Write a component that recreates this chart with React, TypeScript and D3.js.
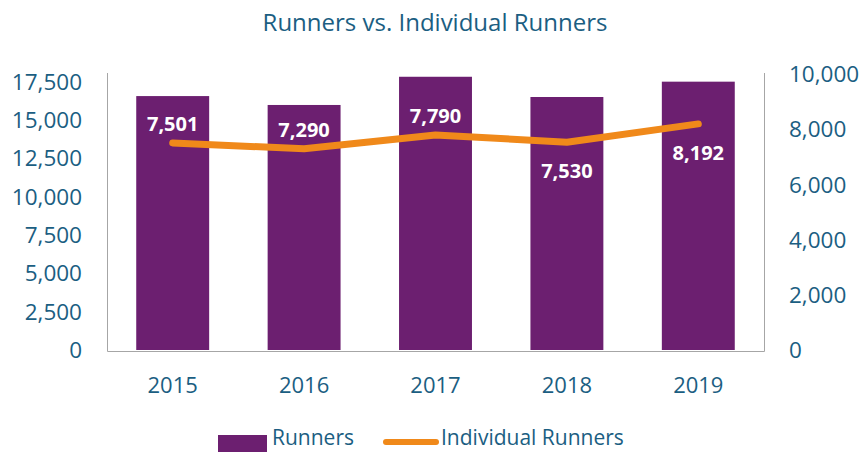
import * as d3 from 'd3';
import { useEffect, useRef } from 'react';

const years = ['2015', '2016', '2017', '2018', '2019'];
const runners = [16560, 15980, 17820, 16500, 17500];
const individualRunners = [7501, 7290, 7790, 7530, 8192];
const leftTicks = [0, 2500, 5000, 7500, 10000, 12500, 15000, 17500];
const rightTicks = [0, 2000, 4000, 6000, 8000, 10000];
// label above (-1) or below (1) the line point
const labelSide = [-1, -1, -1, 1, 1];

export default function App() {
    const ref = useRef<HTMLDivElement>(null);

    useEffect(() => {
        const width = 866;
        const height = 452;
        const margin = { top: 74, right: 102, bottom: 102, left: 107 };
        const font = '"Open Sans", sans-serif';
        const textColor = '#1b5e82';
        const barColor = '#6c1f70';
        const lineColor = '#f0891a';
        const axisColor = '#a6a6a6';

        ref.current!.innerHTML = '';
        const svg = d3
            .create('svg')
            .attr('width', width)
            .attr('height', height)
            .style('display', 'block');
        ref.current!.append(svg.node()!);

        const x = d3
            .scaleBand()
            .domain(years)
            .range([margin.left, width - margin.right])
            .paddingInner(0.445)
            .paddingOuter(0.2225);

        const yLeft = d3
            .scaleLinear()
            .domain([0, 18000])
            .range([height - margin.bottom, margin.top]);

        const yRight = d3
            .scaleLinear()
            .domain([0, 10000])
            .range([height - margin.bottom, margin.top]);

        const fmt = d3.format(',');

        svg.append('text')
            .attr('x', 435)
            .attr('y', 31)
            .attr('text-anchor', 'middle')
            .attr('font-family', font)
            .attr('font-size', 24)
            .attr('fill', textColor)
            .text('Runners vs. Individual Runners');

        // axis lines
        const y0 = yLeft(0) + 1;
        svg.append('path')
            .attr('d', `M${margin.left + 0.5},${margin.top - 1}V${y0 + 0.5}H${width - margin.right + 0.5}V${margin.top - 1}`)
            .attr('fill', 'none')
            .attr('stroke', axisColor)
            .attr('stroke-width', 1);

        svg.append('g')
            .selectAll('text')
            .data(leftTicks)
            .join('text')
            .attr('x', 82)
            .attr('y', d => yLeft(d))
            .attr('dy', '0.36em')
            .attr('text-anchor', 'end')
            .attr('font-family', font)
            .attr('font-size', 22.5)
            .attr('fill', textColor)
            .text(d => fmt(d));

        svg.append('g')
            .selectAll('text')
            .data(rightTicks)
            .join('text')
            .attr('x', 789)
            .attr('y', d => yRight(d))
            .attr('dy', '0.36em')
            .attr('text-anchor', 'start')
            .attr('font-family', font)
            .attr('font-size', 22.5)
            .attr('fill', textColor)
            .text(d => fmt(d));

        svg.append('g')
            .selectAll('text')
            .data(years)
            .join('text')
            .attr('x', d => x(d)! + x.bandwidth() / 2)
            .attr('y', 385)
            .attr('dy', '0.36em')
            .attr('text-anchor', 'middle')
            .attr('font-family', font)
            .attr('font-size', 22)
            .attr('fill', textColor)
            .text(d => d);

        svg.append('g')
            .selectAll('rect')
            .data(runners)
            .join('rect')
            .attr('x', (d, i) => x(years[i])!)
            .attr('y', d => yLeft(d))
            .attr('width', x.bandwidth())
            .attr('height', d => yLeft(0) - yLeft(d))
            .attr('fill', barColor);

        const cx = (i: number) => x(years[i])! + x.bandwidth() / 2;

        const line = d3
            .line<number>()
            .x((d, i) => cx(i))
            .y(d => yRight(d));

        svg.append('path')
            .datum(individualRunners)
            .attr('d', line)
            .attr('fill', 'none')
            .attr('stroke', lineColor)
            .attr('stroke-width', 7)
            .attr('stroke-linecap', 'round')
            .attr('stroke-linejoin', 'round');

        svg.append('g')
            .selectAll('text')
            .data(individualRunners)
            .join('text')
            .attr('x', (d, i) => cx(i))
            .attr('y', (d, i) => yRight(d) + (labelSide[i] < 0 ? -19 : 29))
            .attr('dy', '0.36em')
            .attr('text-anchor', 'middle')
            .attr('font-family', font)
            .attr('font-size', 20)
            .attr('font-weight', 700)
            .attr('fill', 'white')
            .text(d => fmt(d));

        // legend
        const legend = svg.append('g');
        legend.append('rect')
            .attr('x', 218)
            .attr('y', 435)
            .attr('width', 49)
            .attr('height', 17)
            .attr('fill', barColor);
        legend.append('text')
            .attr('x', 272)
            .attr('y', 437)
            .attr('dy', '0.36em')
            .attr('font-family', font)
            .attr('font-size', 21)
            .attr('fill', textColor)
            .text('Runners');
        legend.append('line')
            .attr('x1', 386)
            .attr('x2', 436)
            .attr('y1', 442)
            .attr('y2', 442)
            .attr('stroke', lineColor)
            .attr('stroke-width', 6)
            .attr('stroke-linecap', 'round');
        legend.append('text')
            .attr('x', 441)
            .attr('y', 437)
            .attr('dy', '0.36em')
            .attr('font-family', font)
            .attr('font-size', 21)
            .attr('fill', textColor)
            .text('Individual Runners');
    }, []);

    return <div ref={ref} style={{ position: 'absolute', left: 0, top: 0 }}></div>;
}
